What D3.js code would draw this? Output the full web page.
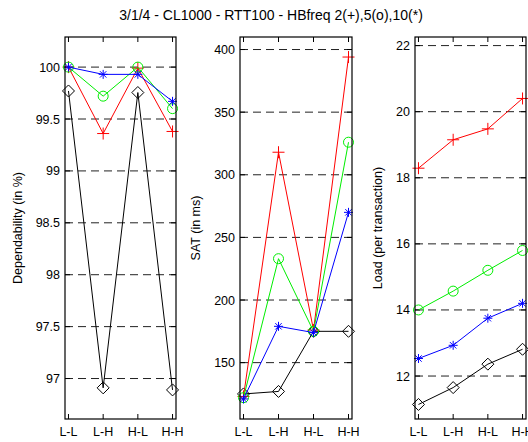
<!DOCTYPE html>
<html>
<head>
<meta charset="utf-8">
<script src="https://cdn.jsdelivr.net/npm/d3@7"></script>
<style>
  body { margin: 0; background: #fff; }
  text { font-family: "Liberation Sans", Arial, sans-serif; }
</style>
</head>
<body>
<svg id="chart" width="528" height="442"></svg>
<script>
// categories on the x axis
var categories = ["L-L", "L-H", "H-L", "H-H"];

// Dependability (in %)
var depHB2  = [100.0, 99.36, 99.99, 99.38];
var depHB5  = [100.0, 99.72, 100.0, 99.60];
var depHB10 = [100.0, 99.93, 99.93, 99.67];
var depBase = [99.77, 96.91, 99.755, 96.89];
var depTicks = [97, 97.5, 98, 98.5, 99, 99.5, 100];

// SAT (in ms)
var satHB2  = [123, 318, 176, 394];
var satHB5  = [122, 233, 175, 326];
var satHB10 = [121, 179, 174, 270];
var satBase = [125, 127, 175, 175];
var satTicks = [150, 200, 250, 300, 350, 400];

// Load (per transaction)
var loadHB2  = [18.29, 19.15, 19.48, 20.40];
var loadHB5  = [14.0, 14.57, 15.2, 15.8];
var loadHB10 = [12.53, 12.93, 13.75, 14.2];
var loadBase = [11.14, 11.65, 12.36, 12.81];
var loadTicks = [12, 14, 16, 18, 20, 22];

var svg = d3.select("#chart");

svg.append("text")
  .attr("x", 271).attr("y", 20)
  .attr("text-anchor", "middle")
  .style("font-size", "14px")
  .text("3/1/4 - CL1000 - RTT100 - HBfreq 2(+),5(o),10(*)");

var plotTop = 37, plotBottom = 419;

var panels = [
  { left: 65,  right: 176, domain: [96.61, 100.29], ticks: depTicks, fmt: d3.format("~g"),
    label: "Dependability (in %)", lx: 22,
    series: [depBase, depHB2, depHB5, depHB10] },
  { left: 240, right: 352, domain: [105, 410], ticks: satTicks, fmt: d3.format("d"),
    label: "SAT (in ms)", lx: 200,
    series: [satBase, satHB2, satHB5, satHB10] },
  { left: 415, right: 526, domain: [10.7, 22.26], ticks: loadTicks, fmt: d3.format("d"),
    label: "Load (per transaction)", lx: 382,
    series: [loadBase, loadHB2, loadHB5, loadHB10] }
];

var styles = [
  { color: "#000000", marker: "diamond" },
  { color: "#ff0000", marker: "plus" },
  { color: "#00ee00", marker: "circle" },
  { color: "#0000ff", marker: "star" }
];

function drawMarker(g, kind, x, y, color) {
  if (kind == "diamond") {
    g.append("path")
      .attr("d", "M" + x + "," + (y - 6) + "L" + (x + 6) + "," + y + "L" + x + "," + (y + 6) + "L" + (x - 6) + "," + y + "Z")
      .attr("fill", "none").attr("stroke", color);
  } else if (kind == "circle") {
    g.append("circle").attr("cx", x).attr("cy", y).attr("r", 5)
      .attr("fill", "none").attr("stroke", color);
  } else if (kind == "plus") {
    g.append("path")
      .attr("d", "M" + (x - 6) + "," + y + "H" + (x + 6) + "M" + x + "," + (y - 6) + "V" + (y + 6))
      .attr("stroke", color);
  } else {
    var r = 4.5, d = r * 0.71;
    g.append("path")
      .attr("d", "M" + (x - r) + "," + y + "H" + (x + r) + "M" + x + "," + (y - r) + "V" + (y + r) +
                 "M" + (x - d) + "," + (y - d) + "L" + (x + d) + "," + (y + d) +
                 "M" + (x - d) + "," + (y + d) + "L" + (x + d) + "," + (y - d))
      .attr("stroke", color);
  }
}

panels.forEach(function (p) {
  // category i sits at i+1, domain padded so L-L and H-H are just inside the frame
  var x = d3.scaleLinear().domain([0.9, 4.1]).range([p.left, p.right]);
  var y = d3.scaleLinear().domain(p.domain).range([plotBottom, plotTop]);
  var g = svg.append("g");

  // dashed grid
  g.selectAll(".grid").data(p.ticks).enter().append("line")
    .attr("x1", p.left).attr("x2", p.right)
    .attr("y1", function (d) { return y(d); }).attr("y2", function (d) { return y(d); })
    .attr("stroke", "#222").attr("stroke-dasharray", "8,5");

  // inward ticks on all four sides
  p.ticks.forEach(function (t) {
    g.append("line").attr("x1", p.left).attr("x2", p.left + 5).attr("y1", y(t)).attr("y2", y(t)).attr("stroke", "#000");
    g.append("line").attr("x1", p.right).attr("x2", p.right - 5).attr("y1", y(t)).attr("y2", y(t)).attr("stroke", "#000");
    g.append("text").attr("x", p.left - 5).attr("y", y(t) + 4.5)
      .attr("text-anchor", "end").style("font-size", "12.5px").text(p.fmt(t));
  });
  categories.forEach(function (c, i) {
    var xi = x(i + 1);
    g.append("line").attr("x1", xi).attr("x2", xi).attr("y1", plotBottom).attr("y2", plotBottom - 5).attr("stroke", "#000");
    g.append("line").attr("x1", xi).attr("x2", xi).attr("y1", plotTop).attr("y2", plotTop + 5).attr("stroke", "#000");
    g.append("text").attr("x", xi).attr("y", 436)
      .attr("text-anchor", "middle").style("font-size", "12.5px").text(c);
  });

  // series
  p.series.forEach(function (vals, si) {
    var st = styles[si];
    var line = d3.line()
      .x(function (d, i) { return x(i + 1); })
      .y(function (d) { return y(d); });
    g.append("path").datum(vals).attr("d", line)
      .attr("fill", "none").attr("stroke", st.color).attr("stroke-width", 1);
    vals.forEach(function (v, i) {
      drawMarker(g, st.marker, x(i + 1), y(v), st.color);
    });
  });

  // frame
  g.append("rect").attr("x", p.left).attr("y", plotTop)
    .attr("width", p.right - p.left).attr("height", plotBottom - plotTop)
    .attr("fill", "none").attr("stroke", "#000").attr("stroke-width", 1.2);

  // y label
  g.append("text")
    .attr("transform", "translate(" + p.lx + "," + ((plotTop + plotBottom) / 2) + ") rotate(-90)")
    .attr("text-anchor", "middle").style("font-size", "12.5px").text(p.label);
});
</script>
</body>
</html>
